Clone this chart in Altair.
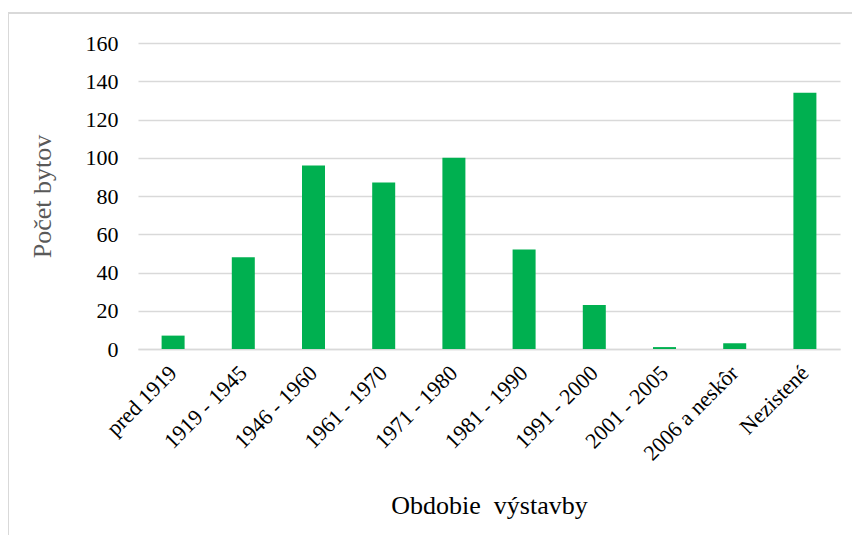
import altair as alt
import pandas as pd

categories = ["pred 1919", "1919 - 1945", "1946 - 1960", "1961 - 1970", "1971 - 1980",
              "1981 - 1990", "1991 - 2000", "2001 - 2005", "2006 a neskôr", "Nezistené"]
values = [7, 48, 96, 87, 100, 52, 23, 1, 3, 134]
y_ticks = [0, 20, 40, 60, 80, 100, 120, 140, 160]

df = pd.DataFrame({"obdobie": categories, "pocet": values})

W, H = 702, 306
FONT = "Liberation Serif"

bars = alt.Chart(df).mark_bar(color="#00B050", size=23).encode(
    x=alt.X("obdobie:N", sort=categories,
            scale=alt.Scale(paddingInner=0, paddingOuter=0),
            axis=alt.Axis(title="Obdobie\u00a0 výstavby", labelAngle=-45, labelAlign="right",
                          labelBaseline="middle", labelPadding=20, labelFontSize=22,
                          labelFont=FONT, labelColor="#000000", ticks=False,
                          domainColor="#d9d9d9", domainWidth=1.5,
                          titleFont=FONT, titleFontSize=26, titleFontWeight="normal",
                          titleColor="#000000", titlePadding=28)),
    y=alt.Y("pocet:Q", scale=alt.Scale(domain=[0, 160], nice=False),
            axis=alt.Axis(title="Počet bytov", values=y_ticks, domain=False, ticks=False,
                          labelFont=FONT, labelFontSize=22, labelColor="#000000",
                          labelPadding=20, gridColor="#d9d9d9", gridWidth=1.5,
                          titleFont=FONT, titleFontSize=26, titleFontWeight="normal",
                          titleColor="#595959", titlePadding=30)),
)

border = alt.Chart(df).mark_rect(fill=None, stroke="#d9d9d9", strokeWidth=1.5, clip=False).encode(
    x=alt.value(-130), x2=alt.value(W + 30), y=alt.value(-30), y2=alt.value(H + 260)
)

chart = alt.layer(border, bars).properties(
    width=W, height=H,
    padding={"left": 130, "top": 35, "right": 12, "bottom": 186},
    autosize=alt.AutoSizeParams(type="none"),
).configure_view(stroke=None)

chart.save("out.html", embed_options={"renderer": "svg", "actions": False})
